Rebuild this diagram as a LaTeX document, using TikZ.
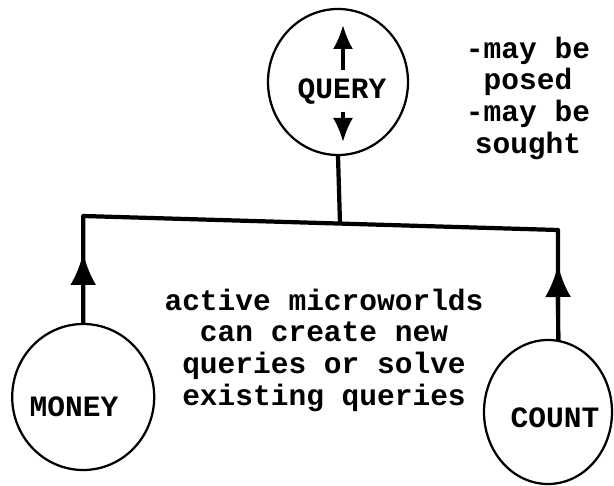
\documentclass[tikz,border=0pt]{standalone}
\usepackage{fontspec}
\setmonofont{Liberation Mono}
\usepackage{tikz}
\usetikzlibrary{arrows.meta,shapes.geometric}
\tikzset{
  world/.style={draw,ellipse,line width=1.6pt,inner sep=0pt},
  wlbl/.style={font=\ttfamily\bfseries\fontsize{21}{22.5}\selectfont,inner sep=1pt,align=center},
  link/.style={line width=3pt,line join=round},
  uparr/.style={line width=3pt,-{Latex[length=8mm,width=6.5mm]}},
  qarr/.style={line width=2.2pt,-{Latex[length=6mm,width=5mm]}},
}

\begin{document}
\begin{tikzpicture}
\useasboundingbox (0,0) rectangle (15.35,12.15);

% ================= query =================
\node[world, minimum width=3.5cm, minimum height=3.65cm] (query) at (8.45,10.1) {};
\node[wlbl] (querytxt) at (8.55,9.85) {QUERY};
\coordinate (qup0) at (8.575,10.4);  \coordinate (qup1) at (8.575,11.525);
\coordinate (qdn0) at (8.575,9.35);  \coordinate (qdn1) at (8.575,8.6);
\draw[qarr] (qup0) -- (qup1);
\draw[qarr] (qdn0) -- (qdn1);

\node[wlbl] (note) at (13.2,9.7) {-may be\\posed\\-may be\\sought};

% ================= microworlds =================
\node[world, minimum width=3.55cm, minimum height=3.65cm] (money) at (2.08,2.225) {};
\node[wlbl] (moneytxt) at (1.85,1.975) {MONEY};
\node[world, minimum width=3.2cm, minimum height=3.6cm] (count) at (13.7,1.85) {};
\node[wlbl] (counttxt) at (13.875,1.7) {COUNT};

\node[wlbl] (blurb) at (8.1,3.4)
  {active microworlds\\can create new\\queries or solve\\existing queries};

% ================= bus =================
\coordinate (busl) at (2.08,6.75);
\coordinate (busq) at (8.5,6.56);
\coordinate (busr) at (13.95,6.4);
\coordinate (mtip) at (2.08,5.825);
\coordinate (ctip) at (13.95,5.525);

\draw[link] (query.south) -- (busq);
\draw[link] (money.north) -- (busl) -- (busr) -- (count.82);
% heads sit halfway up each riser
\draw[uparr] (money.north) -- (mtip);
\draw[uparr] (count.82) -- (ctip);
\end{tikzpicture}
\end{document}
